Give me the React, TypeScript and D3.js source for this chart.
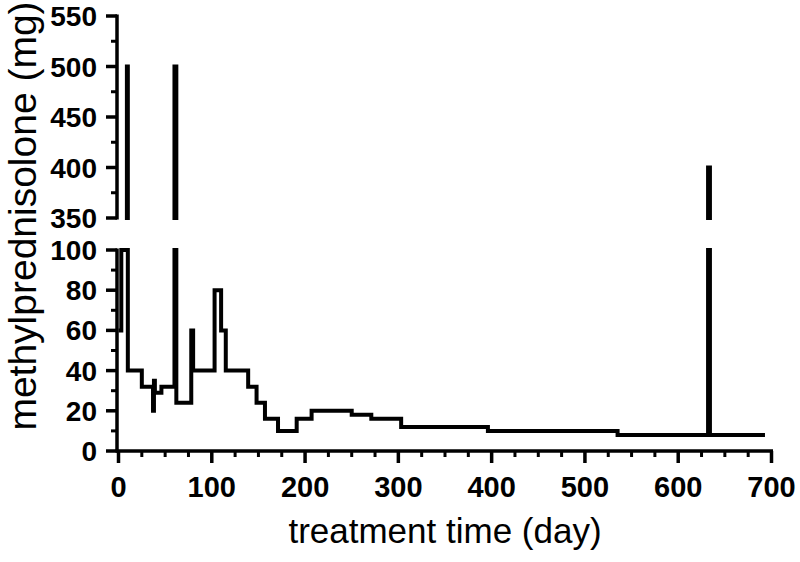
import React from 'react';
import * as d3 from 'd3';

// methylprednisolone dose, step data (dose holds from this day until the next one)
const days = [0, 3, 9, 10, 25, 37, 38, 39, 46, 60, 62, 78, 80, 103, 110, 115, 139, 148, 157, 171, 191, 207, 250, 271, 303, 396, 535, 632, 634, 693];
const doses = [60, 100, 500, 40, 32, 20, 35, 29, 32, 500, 24, 60, 40, 80, 60, 40, 32, 24, 16, 10, 16, 20, 18, 16, 12, 10, 8, 400, 8, 8];

const xTicks = [0, 100, 200, 300, 400, 500, 600, 700];
const yTopTicks = [350, 400, 450, 500, 550];
const yBottomTicks = [0, 20, 40, 60, 80, 100];

const width = 800;
const height = 562;
const font = 'Arial, "Liberation Sans", Helvetica, sans-serif';
const lineW = 4;

export default function App() {
  const x = d3.scaleLinear().domain([0, 700]).range([118.5, 771.5]);
  const yTop = d3.scaleLinear().domain([350, 550]).range([218, 16]);
  const yBot = d3.scaleLinear().domain([0, 100]).range([451, 250]);

  const pts = days.map((d, i) => ({ day: d, dose: doses[i] }));

  const lineTop = d3.line<{ day: number; dose: number }>()
    .x(d => x(d.day))
    .y(d => yTop(d.dose))
    .curve(d3.curveStepAfter);
  const lineBot = d3.line<{ day: number; dose: number }>()
    .x(d => x(d.day))
    .y(d => yBot(d.dose))
    .curve(d3.curveStepAfter);

  const xMinor = d3.range(0, 701, 25).filter(v => v % 100 !== 0);
  const topMinor = d3.range(375, 550, 50);
  const botMinor = d3.range(10, 100, 20);

  const axisX = x(0) - 1.5;

  return (
    <svg width={width} height={height} style={{ position: 'absolute', left: 0, top: 0, background: '#fff' }}>
      <defs>
        <clipPath id="clipTop">
          <rect x={0} y={yTop(550)} width={width} height={yTop(350) - yTop(550) + lineW / 2} />
        </clipPath>
        <clipPath id="clipBot">
          <rect x={0} y={yBot(100) - lineW / 2} width={width} height={yBot(0) - yBot(100) + lineW / 2} />
        </clipPath>
      </defs>

      {/* data */}
      <path d={lineTop(pts) || ''} fill="none" stroke="#000" strokeWidth={lineW} clipPath="url(#clipTop)" />
      <path d={lineBot(pts) || ''} fill="none" stroke="#000" strokeWidth={lineW} clipPath="url(#clipBot)" />

      {/* y axis top segment */}
      <line x1={axisX} x2={axisX} y1={yTop(550) - 1.5} y2={yTop(350) + 1.5} stroke="#000" strokeWidth={3.5} />
      {yTopTicks.map(t => (
        <g key={'yt' + t}>
          <line x1={axisX - 11} x2={axisX} y1={yTop(t)} y2={yTop(t)} stroke="#000" strokeWidth={3.5} />
          <text x={97} y={yTop(t)} dy="0.36em" textAnchor="end" fontFamily={font} fontWeight="bold" fontSize={28}>{t}</text>
        </g>
      ))}
      {topMinor.map(t => (
        <line key={'ytm' + t} x1={axisX - 6} x2={axisX} y1={yTop(t)} y2={yTop(t)} stroke="#000" strokeWidth={3} />
      ))}

      {/* y axis bottom segment */}
      <line x1={axisX} x2={axisX} y1={yBot(100) - 1.5} y2={yBot(0)} stroke="#000" strokeWidth={3.5} />
      {yBottomTicks.map(t => (
        <g key={'yb' + t}>
          <line x1={axisX - 11} x2={axisX} y1={yBot(t)} y2={yBot(t)} stroke="#000" strokeWidth={3.5} />
          <text x={97} y={yBot(t)} dy="0.36em" textAnchor="end" fontFamily={font} fontWeight="bold" fontSize={28}>{t}</text>
        </g>
      ))}
      {botMinor.map(t => (
        <line key={'ybm' + t} x1={axisX - 6} x2={axisX} y1={yBot(t)} y2={yBot(t)} stroke="#000" strokeWidth={3} />
      ))}

      {/* x axis */}
      <line x1={axisX - 1.5} x2={x(700) + 1.5} y1={yBot(0)} y2={yBot(0)} stroke="#000" strokeWidth={3.5} />
      {xTicks.map(t => (
        <g key={'x' + t}>
          <line x1={x(t)} x2={x(t)} y1={yBot(0)} y2={yBot(0) + 12} stroke="#000" strokeWidth={3.5} />
          <text x={x(t)} y={497} textAnchor="middle" fontFamily={font} fontWeight="bold" fontSize={29}>{t}</text>
        </g>
      ))}
      {xMinor.map(t => (
        <line key={'xm' + t} x1={x(t)} x2={x(t)} y1={yBot(0)} y2={yBot(0) + 6} stroke="#000" strokeWidth={3} />
      ))}

      {/* titles */}
      <text x={445} y={543} textAnchor="middle" fontFamily={font} fontSize={35}>treatment time (day)</text>
      <text transform="translate(36,216) rotate(-90)" textAnchor="middle" fontFamily={font} fontSize={39}>methylprednisolone (mg)</text>
    </svg>
  );
}
